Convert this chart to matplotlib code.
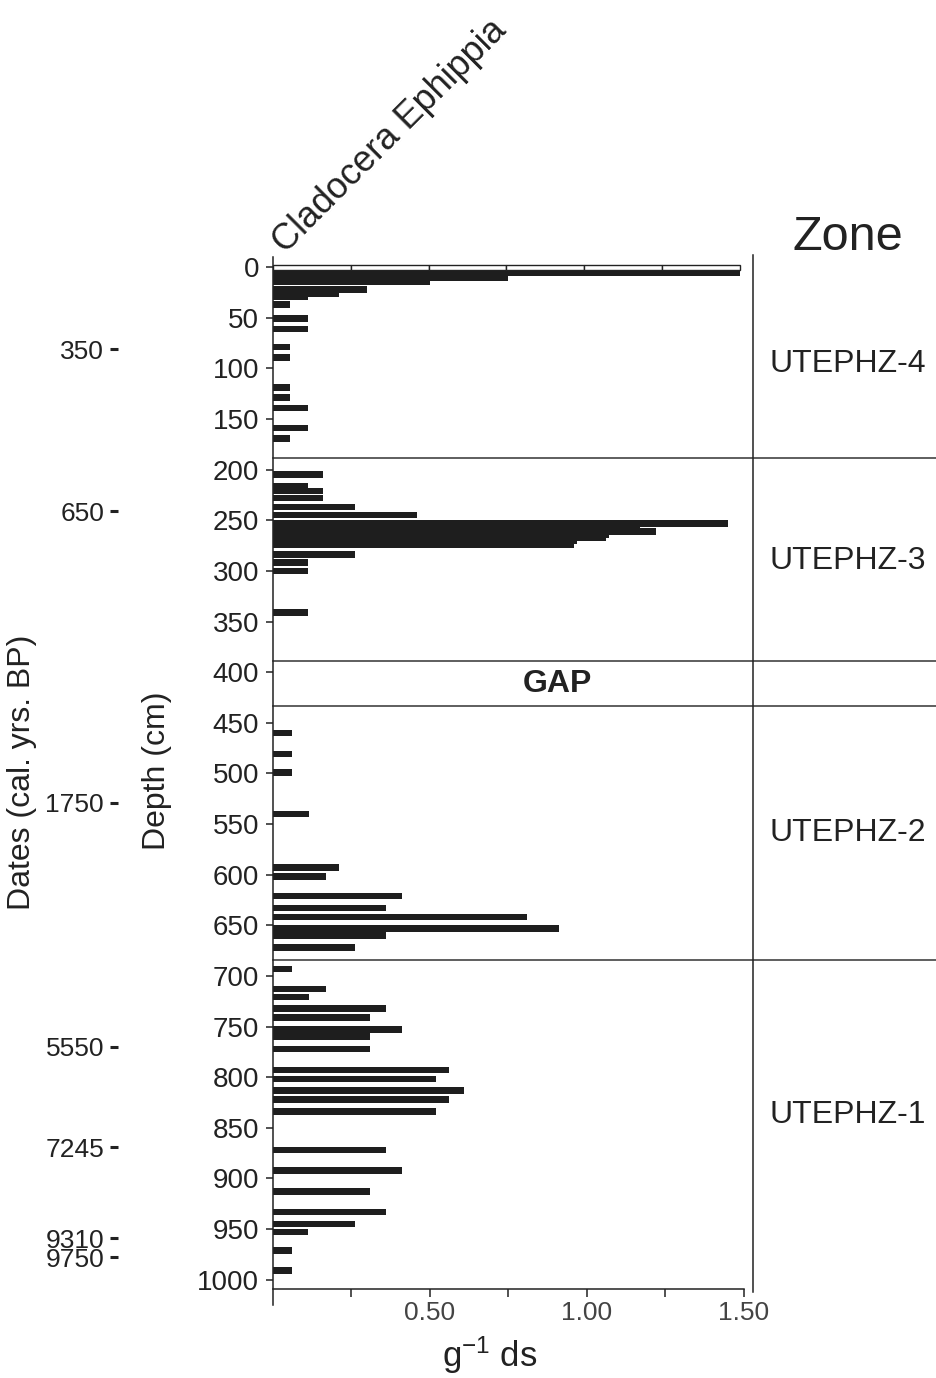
import matplotlib
matplotlib.use("Agg")
import matplotlib.pyplot as plt
import matplotlib.transforms as mtransforms
from matplotlib.ticker import MultipleLocator, FixedLocator, FormatStrFormatter

plt.rcParams["font.family"] = ["Liberation Sans", "DejaVu Sans"]
plt.rcParams["mathtext.fontset"] = "custom"
plt.rcParams["mathtext.rm"] = "Liberation Sans"
plt.rcParams["mathtext.it"] = "Liberation Sans"

# ── data: sample depth (cm) and ephippia concentration (g-1 ds) ──
depth = [6, 10, 14, 22, 26, 29, 37, 51, 61, 79, 89, 119, 129, 139, 159, 169,
         205, 216, 221, 228, 237, 245, 253, 257, 261, 264, 267, 270, 274, 284,
         292, 300, 341,
         460, 481, 499, 540, 593, 602, 621, 633, 642, 653, 660, 672,
         693, 713, 721, 732, 741, 753, 760, 772, 793, 802, 813, 822, 834,
         872, 892, 913, 933, 945, 953, 971, 991]
value = [1.49, 0.75, 0.50, 0.30, 0.21, 0.11, 0.055, 0.11, 0.11, 0.055, 0.055,
         0.055, 0.055, 0.11, 0.11, 0.055,
         0.16, 0.11, 0.16, 0.16, 0.26, 0.46, 1.45, 1.17, 1.22, 1.07, 1.06,
         0.97, 0.96, 0.26, 0.11, 0.11, 0.11,
         0.06, 0.06, 0.06, 0.115, 0.21, 0.17, 0.41, 0.36, 0.81, 0.91, 0.36,
         0.26,
         0.06, 0.17, 0.115, 0.36, 0.31, 0.41, 0.31, 0.31, 0.56, 0.52, 0.61,
         0.56, 0.52, 0.36, 0.41, 0.31, 0.36, 0.26, 0.11, 0.06, 0.06]

# open (unfilled) bar at the core top, drawn in segments
top_depth = 0.5
top_segments = [0.248, 0.248, 0.248, 0.248, 0.248, 0.248]

# radiocarbon dates placed against depth
date_depth = [81, 241, 529, 770, 869, 959, 978]
date_label = ["350", "650", "1750", "5550", "7245", "9310", "9750"]

# zone boundaries, zone names and the gap
zone_bounds = [189, 389, 433, 684]
zone_names = ["UTEPHZ-4", "UTEPHZ-3", "UTEPHZ-2", "UTEPHZ-1"]
zone_centres = [96, 290, 559, 837]
gap_centre = 412

# ─────────────────────────────────────────────────────────────
fig = plt.figure(figsize=(9.36, 13.78), dpi=100)
ax = fig.add_axes([0.2917, 0.053, 0.5128, 0.7605])

ax.barh(depth, value, height=6.5, color="#1e1e1e", linewidth=0)
left = 0.0
for seg in top_segments:
    ax.barh(top_depth, seg, left=left, height=5, facecolor="white",
            edgecolor="#222222", linewidth=1.0)
    left += seg

ax.set_xlim(0, 1.53)
ax.set_ylim(1025, -10)

# axes styling
ax.spines["top"].set_visible(False)
ax.spines["bottom"].set_position(("data", 1009))
ax.spines["bottom"].set_bounds(0, 1.5)
ax.spines["right"].set_bounds(-12, 1012)
for s in ("left", "bottom", "right"):
    ax.spines[s].set_linewidth(1.1)
    ax.spines[s].set_color("#222222")

ax.yaxis.set_major_locator(MultipleLocator(50))
ax.tick_params(axis="y", direction="out", length=5, width=1.1, labelsize=20,
               pad=5, colors="#222222")
ax.xaxis.set_major_locator(FixedLocator([0.5, 1.0, 1.5]))
ax.xaxis.set_minor_locator(FixedLocator([0.25, 0.75, 1.25]))
ax.xaxis.set_major_formatter(FormatStrFormatter("%.2f"))
ax.tick_params(axis="x", which="both", direction="out", length=6, width=1.1,
               labelsize=19, pad=3, colors="#222222")
ax.tick_params(axis="x", labelcolor="#444444")

ax.set_xlabel(r"g$^{\mathrm{-1}}$ ds", fontsize=25, color="#222222")
ax.xaxis.set_label_coords(0.452, -0.048)
ax.xaxis.label.set_va("center")
ax.set_ylabel("Depth (cm)", fontsize=23, color="#222222")
ax.yaxis.set_label_coords(-0.21, 0.51)

# dates axis on the far left
sec = ax.secondary_yaxis(-0.323)
sec.spines["left"].set_visible(False)
sec.set_yticks(date_depth, labels=date_label)
sec.tick_params(direction="out", length=6, width=2.2, labelsize=19, pad=4,
                colors="#222222")
fig.text(22 / 936, 1 - 772 / 1378, "Dates (cal. yrs. BP)", rotation=90,
         ha="center", va="center", fontsize=23, color="#222222")

# zone lines and labels
zx = mtransforms.blended_transform_factory(ax.transAxes, ax.transData)
for b in zone_bounds:
    ax.plot([0, 1.385], [b, b], transform=zx, color="#333333", lw=1.1,
            clip_on=False)
for name, yc in zip(zone_names, zone_centres):
    ax.text(1.198, yc, name, transform=zx, ha="center", va="center",
            fontsize=23, color="#222222")
ax.text(0.905, gap_centre, "GAP", ha="center", va="center", fontsize=23,
        fontweight="bold", color="#222222")

ax.text(1.198, 1.019, "Zone", transform=ax.transAxes, ha="center",
        va="center", fontsize=35, color="#222222")
ax.text(0.038, 0.997, "Cladocera Ephippia", transform=ax.transAxes,
        ha="left", va="bottom", rotation=45, rotation_mode="anchor",
        fontsize=26, color="#222222")

fig.savefig("out.png", dpi=100, facecolor="white")
